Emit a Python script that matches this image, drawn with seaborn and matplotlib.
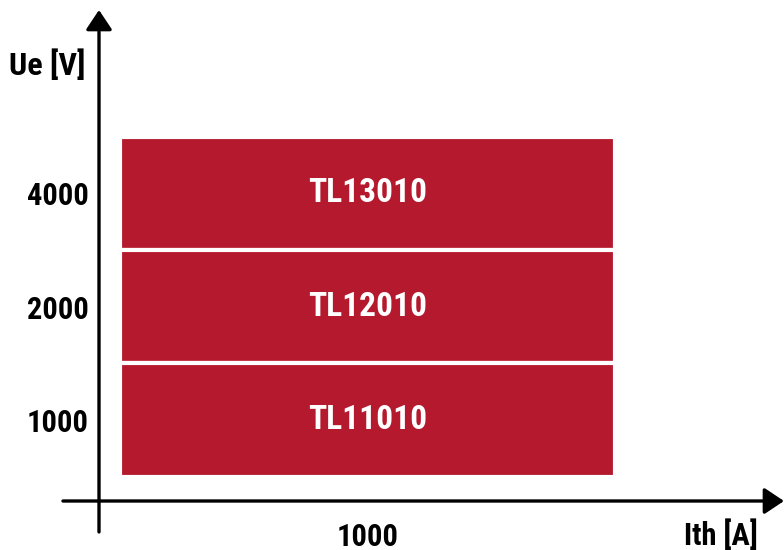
import pandas as pd
import matplotlib.pyplot as plt
import seaborn as sns

# chart data
voltages = ['4000', '2000', '1000']          # Ue [V], top to bottom
models = ['TL13010', 'TL12010', 'TL11010']
current_max = [2000, 2000, 2000]             # Ith span of each band
x_ticks = [1000]

df = pd.DataFrame({'Ue': voltages, 'Ith': current_max, 'model': models})

sns.set_theme(style='white')
plt.rcParams['font.family'] = ['Roboto Condensed', 'DejaVu Sans']
plt.rcParams['font.weight'] = 'bold'
plt.rcParams['text.color'] = 'black'

red = '#B5192D'
fs = 22

fig = plt.figure(figsize=(7.84, 5.5), dpi=100)
ax = fig.add_axes([99 / 784, 49 / 550, 685 / 784, 491 / 550])

sns.barplot(data=df, x='Ith', y='Ue', order=voltages, orient='h', color=red,
            width=1.0, edgecolor='white', linewidth=3, saturation=1, ax=ax)

# band labels
for i, row in df.iterrows():
    ax.text(row['Ith'] / 2, i, row['model'], color='white', fontsize=24,
            fontweight='bold', ha='center', va='center')

ax.set_xlim(-84.8, 2682.6)
ax.set_ylim(2.716, -1.617)
ax.set_xticks(x_ticks)
ax.set_xticklabels([str(t) for t in x_ticks])
ax.tick_params(axis='x', length=0, pad=15, labelsize=fs, labelcolor='black')
ax.tick_params(axis='y', length=0, pad=7.5, labelsize=fs, labelcolor='black')
for lab in ax.get_xticklabels() + ax.get_yticklabels():
    lab.set_fontweight('bold')
ax.set_xlabel('')
ax.set_ylabel('')
for s in ax.spines.values():
    s.set_visible(False)

# axis arrows
arrow = dict(arrowstyle='-|>,head_length=0.6,head_width=0.4', color='black',
             lw=2.4, mutation_scale=20, shrinkA=0, shrinkB=0)
ax.annotate('', xy=(0, 1.0), xytext=(0, -0.0631), xycoords='axes fraction',
            arrowprops=arrow, annotation_clip=False)
ax.annotate('', xy=(1.0, 0), xytext=(-0.0526, 0), xycoords='axes fraction',
            arrowprops=arrow, annotation_clip=False)

ax.text(-0.0759, 0.888, 'Ue [V]', transform=ax.transAxes, fontsize=23,
        fontweight='bold', ha='center', va='center', color='black')
ax.text(0.908, -0.069, 'Ith [A]', transform=ax.transAxes, fontsize=fs,
        fontweight='bold', ha='center', va='center', color='black')

fig.savefig('out.png', dpi=100)
